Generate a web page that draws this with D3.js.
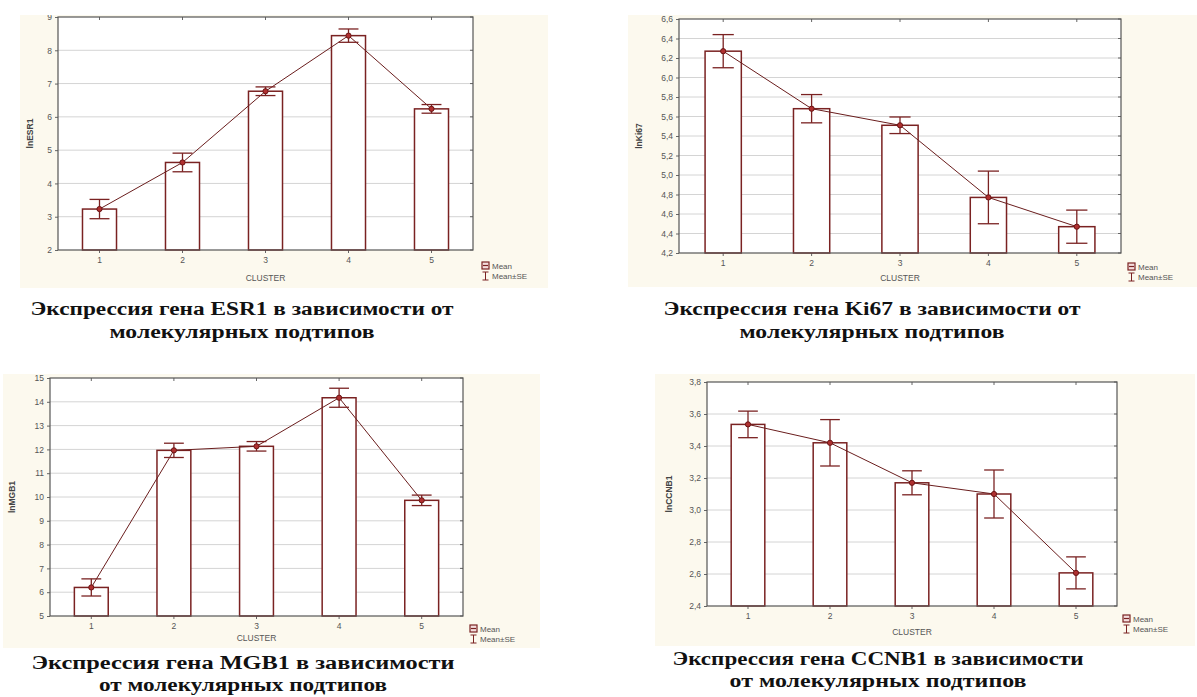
<!DOCTYPE html>
<html><head><meta charset="utf-8">
<script src="https://cdn.jsdelivr.net/npm/d3@7"></script>
<style>body{margin:0;background:#fff}svg{display:block}</style>
</head><body>
<svg id="c" width="1197" height="697"></svg>
<script>
const clusters = ["1","2","3","4","5"];
const esr1Mean = [3.23, 4.63, 6.77, 8.44, 6.24];
const esr1SE   = [0.29, 0.28, 0.13, 0.20, 0.13];
const ki67Mean = [6.27, 5.68, 5.51, 4.77, 4.47];
const ki67SE   = [0.17, 0.145, 0.085, 0.27, 0.17];
const mgb1Mean = [6.20, 11.96, 12.13, 14.17, 9.86];
const mgb1SE   = [0.36, 0.30, 0.20, 0.40, 0.22];
const ccnb1Mean = [3.535, 3.42, 3.17, 3.10, 2.607];
const ccnb1SE   = [0.083, 0.145, 0.075, 0.15, 0.10];
const esr1Ticks = [2,3,4,5,6,7,8,9];
const ki67Ticks = [4.2,4.4,4.6,4.8,5.0,5.2,5.4,5.6,5.8,6.0,6.2,6.4,6.6];
const mgb1Ticks = [5,6,7,8,9,10,11,12,13,14,15];
const ccnb1Ticks = [2.4,2.6,2.8,3.0,3.2,3.4,3.6,3.8];
const yLabels = ["lnESR1","lnKi67","lnMGB1","lnCCNB1"];
const xLabel = "CLUSTER";
const legendLabels = ["Mean","Mean±SE"];
const captions = [
  ["Экспрессия гена ESR1 в зависимости от","молекулярных подтипов"],
  ["Экспрессия гена Ki67 в зависимости от","молекулярных подтипов"],
  ["Экспрессия гена MGB1 в зависимости","от молекулярных подтипов"],
  ["Экспрессия гена CCNB1 в зависимости","от молекулярных подтипов"]
];

const svg = d3.select("#c");
const RED = "#7a2222";
const fmtInt = d => String(d);
const fmtComma = d => d.toFixed(1).replace(".", ",");

const panels = [
  {mean: esr1Mean, se: esr1SE, ticks: esr1Ticks, fmt: fmtInt, dom:[2,9],
   plot:{x0:58,x1:473,y0:17,y1:250}, cream:{x0:20,x1:548,y0:15,y1:288}, ylx:33, leg:{x:482,y:266}, cly:281,
   cap:{cx:242, y1:315, y2:338, w1:423, w2:265}},
  {mean: ki67Mean, se: ki67SE, ticks: ki67Ticks, fmt: fmtComma, dom:[4.2,6.6],
   plot:{x0:679,x1:1121,y0:19,y1:253}, cream:{x0:628,x1:1197,y0:15,y1:287}, ylx:642, leg:{x:1128,y:267}, cly:281,
   cap:{cx:872, y1:315, y2:338, w1:417, w2:265}},
  {mean: mgb1Mean, se: mgb1SE, ticks: mgb1Ticks, fmt: fmtInt, dom:[5,15],
   plot:{x0:50,x1:463,y0:378,y1:616}, cream:{x0:3,x1:540,y0:374,y1:648}, ylx:15, leg:{x:470,y:629}, cly:641,
   cap:{cx:243, y1:669, y2:691, w1:423, w2:288}},
  {mean: ccnb1Mean, se: ccnb1SE, ticks: ccnb1Ticks, fmt: fmtComma, dom:[2.4,3.8],
   plot:{x0:707,x1:1117,y0:382,y1:606}, cream:{x0:655,x1:1195,y0:374,y1:646}, ylx:672, leg:{x:1123,y:619}, cly:635,
   cap:{cx:878, y1:665, y2:687, w1:411, w2:297}}
];

panels.forEach((p, i) => {
  const g = svg.append("g");
  const clipId = "clip" + i;
  svg.append("clipPath").attr("id", clipId).append("rect")
    .attr("x", p.cream.x0).attr("y", p.cream.y0)
    .attr("width", p.cream.x1 - p.cream.x0).attr("height", p.cream.y1 - p.cream.y0);
  const gc = g.append("g").attr("clip-path", `url(#${clipId})`);
  gc.append("rect").attr("x", p.cream.x0).attr("y", p.cream.y0)
    .attr("width", p.cream.x1 - p.cream.x0).attr("height", p.cream.y1 - p.cream.y0)
    .attr("fill", "#fcf9ee");

  const x = d3.scaleBand().domain(clusters).range([p.plot.x0, p.plot.x1]);
  const y = d3.scaleLinear().domain(p.dom).range([p.plot.y1, p.plot.y0]);

  gc.append("rect").attr("x", p.plot.x0).attr("y", p.plot.y0)
    .attr("width", p.plot.x1 - p.plot.x0).attr("height", p.plot.y1 - p.plot.y0)
    .attr("fill", "#fff");

  gc.append("g").selectAll("line").data(p.ticks.slice(1, -1)).join("line")
    .attr("x1", p.plot.x0).attr("x2", p.plot.x1)
    .attr("y1", d => y(d)).attr("y2", d => y(d))
    .attr("stroke", "#d4d4d4").attr("stroke-width", 1);

  const ya = gc.append("g").attr("transform", `translate(${p.plot.x0},0)`)
    .call(d3.axisLeft(y).tickValues(p.ticks).tickFormat(p.fmt).tickSize(3).tickPadding(3));
  ya.select(".domain").remove();
  ya.selectAll("line").attr("stroke", "#666");
  ya.selectAll("text").attr("font-family", "Liberation Sans, Arial, sans-serif")
    .attr("font-size", 8.5).attr("fill", "#555");
  gc.append("g").selectAll("line").data(p.ticks).join("line")
    .attr("x1", p.plot.x1 - 3).attr("x2", p.plot.x1)
    .attr("y1", d => y(d)).attr("y2", d => y(d)).attr("stroke", "#666");

  const xa = gc.append("g").attr("transform", `translate(0,${p.plot.y1})`)
    .call(d3.axisBottom(x).tickSize(3).tickPadding(4));
  xa.select(".domain").remove();
  xa.selectAll("line").attr("stroke", "#666");
  xa.selectAll("text").attr("font-family", "Liberation Sans, Arial, sans-serif")
    .attr("font-size", 8.5).attr("fill", "#555");
  gc.append("g").selectAll("line").data(clusters).join("line")
    .attr("x1", d => x(d) + x.bandwidth()/2).attr("x2", d => x(d) + x.bandwidth()/2)
    .attr("y1", p.plot.y0).attr("y2", p.plot.y0 + 3).attr("stroke", "#666");

  const bw = x.bandwidth() * 0.41;
  gc.append("g").selectAll("rect").data(p.mean).join("rect")
    .attr("x", (d, j) => x(clusters[j]) + x.bandwidth()/2 - bw/2)
    .attr("y", d => y(d))
    .attr("width", bw).attr("height", d => p.plot.y1 - y(d))
    .attr("fill", "#fff").attr("stroke", RED).attr("stroke-width", 1.5);

  const cx = j => x(clusters[j]) + x.bandwidth()/2;
  gc.append("path").datum(p.mean)
    .attr("d", d3.line().x((d, j) => cx(j)).y(d => y(d)))
    .attr("fill", "none").attr("stroke", "#6a1d1d").attr("stroke-width", 1);

  const cap = x.bandwidth() * 0.12;
  const eb = gc.append("g").attr("stroke", RED).attr("stroke-width", 1.3);
  p.mean.forEach((m, j) => {
    const hi = y(m + p.se[j]), lo = y(m - p.se[j]);
    eb.append("line").attr("x1", cx(j)).attr("x2", cx(j)).attr("y1", hi).attr("y2", lo);
    eb.append("line").attr("x1", cx(j) - cap).attr("x2", cx(j) + cap).attr("y1", hi).attr("y2", hi);
    eb.append("line").attr("x1", cx(j) - cap).attr("x2", cx(j) + cap).attr("y1", lo).attr("y2", lo);
  });
  gc.append("g").selectAll("circle").data(p.mean).join("circle")
    .attr("cx", (d, j) => cx(j)).attr("cy", d => y(d)).attr("r", 2.6)
    .attr("fill", "#b03030").attr("stroke", "#6a1515").attr("stroke-width", 1);

  gc.append("rect").attr("x", p.plot.x0).attr("y", p.plot.y0)
    .attr("width", p.plot.x1 - p.plot.x0).attr("height", p.plot.y1 - p.plot.y0)
    .attr("fill", "none").attr("stroke", "#555").attr("stroke-width", 1.2);

  gc.append("text").attr("transform", `translate(${p.ylx},${(p.plot.y0 + p.plot.y1)/2}) rotate(-90)`)
    .attr("text-anchor", "middle").attr("font-family", "Liberation Sans Narrow, Liberation Sans, Arial, sans-serif")
    .attr("font-size", 8.5).attr("font-weight", "bold").attr("fill", "#444").text(yLabels[i]);
  gc.append("text").attr("x", x(clusters[2]) + x.bandwidth()/2).attr("y", p.cly)
    .attr("text-anchor", "middle").attr("font-family", "Liberation Sans, Arial, sans-serif")
    .attr("font-size", 8.5).attr("fill", "#555").text(xLabel);

  const lg = gc.append("g").attr("transform", `translate(${p.leg.x},${p.leg.y})`);
  lg.append("rect").attr("x", 0).attr("y", -4).attr("width", 7).attr("height", 7)
    .attr("fill", "#f4dede").attr("stroke", RED).attr("stroke-width", 1.2);
  lg.append("line").attr("x1", 1).attr("x2", 6).attr("y1", -0.5).attr("y2", -0.5).attr("stroke", RED).attr("stroke-width", 1.2);
  lg.append("text").attr("x", 10).attr("y", 3).attr("font-family", "Liberation Sans, Arial, sans-serif")
    .attr("font-size", 8).attr("fill", "#555").text(legendLabels[0]);
  const ly = 10;
  lg.append("line").attr("x1", 3.5).attr("x2", 3.5).attr("y1", ly - 4).attr("y2", ly + 4).attr("stroke", RED);
  lg.append("line").attr("x1", 0.5).attr("x2", 6.5).attr("y1", ly - 4).attr("y2", ly - 4).attr("stroke", RED);
  lg.append("line").attr("x1", 0.5).attr("x2", 6.5).attr("y1", ly + 4).attr("y2", ly + 4).attr("stroke", RED);
  lg.append("text").attr("x", 10).attr("y", ly + 3).attr("font-family", "Liberation Sans, Arial, sans-serif")
    .attr("font-size", 8).attr("fill", "#555").text(legendLabels[1]);

  [[captions[i][0], p.cap.y1, p.cap.w1], [captions[i][1], p.cap.y2, p.cap.w2]].forEach(([t, yy, w]) => {
    svg.append("text").attr("x", p.cap.cx).attr("y", yy).attr("text-anchor", "middle")
      .attr("font-family", "Liberation Serif, DejaVu Serif, serif").attr("font-weight", "bold")
      .attr("font-size", 18).attr("fill", "#111").attr("textLength", w).attr("lengthAdjust", "spacingAndGlyphs")
      .text(t);
  });
});
</script>
</body></html>
